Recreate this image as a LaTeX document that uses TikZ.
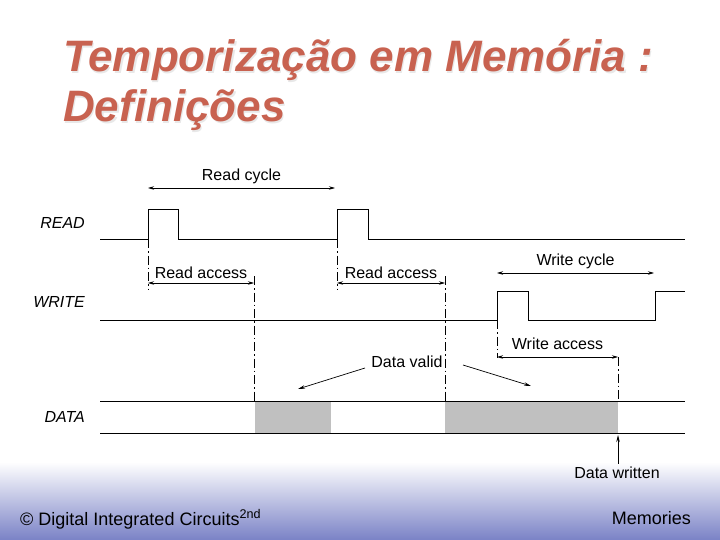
\documentclass[tikz,border=0pt]{standalone}
\usepackage{fontspec}
\setmainfont{Liberation Sans}
\usetikzlibrary{arrows.meta}

\definecolor{titlered}{RGB}{200,98,80}
\definecolor{footblue}{RGB}{122,130,198}
\definecolor{validgray}{RGB}{192,192,192}

\newcommand*{\xstart}{100}
\newcommand*{\xstop}{685}
\newcommand*{\rdlow}{239}
\newcommand*{\rdhigh}{210}
\newcommand*{\wrlow}{320}
\newcommand*{\wrhigh}{291}
\newcommand*{\datatop}{401}
\newcommand*{\databot}{433}

\begin{document}
\begin{tikzpicture}
[
	x=1pt,y=-1pt,
	sig/.style={line width=1pt,line join=miter},
	span/.style={{Stealth[length=6pt,width=3.5pt]}-{Stealth[length=6pt,width=3.5pt]},line width=0.7pt},
	pointer/.style={-{Stealth[length=7pt,width=3.5pt]},line width=0.7pt},
	guide/.style={line width=0.8pt,dash pattern=on 9pt off 3pt on 1.5pt off 3pt},
	lbl/.style={font=\fontsize{16}{18}\selectfont,inner sep=1pt},
	signame/.style={font=\fontsize{16}{18}\selectfont\itshape,anchor=east,inner sep=0pt},
	titletext/.style={font=\fontsize{44}{48}\selectfont\bfseries\itshape,anchor=base west,inner sep=0pt},
	foot/.style={font=\fontsize{18}{20}\selectfont,inner sep=0pt}
]

	\useasboundingbox (0,0) rectangle (720,540);

	% footer band
	\shade[top color=white,bottom color=footblue] (0,462) rectangle (720,540);

	% title
	\node[titletext,gray!18] at (64.2,73.2) (t1s) {Temporização em Memória :};
	\node[titletext,gray!18] at (64.2,123.2) (t2s) {Definições};
	\node[titletext,titlered] at (63,72) (t1) {Temporização em Memória :};
	\node[titletext,titlered] at (63,122) (t2) {Definições};

	% signal names
	\node[signame] at (85,223) (rdname) {READ};
	\node[signame] at (85,302) (wrname) {WRITE};
	\node[signame] at (85,417) (dtname) {DATA};

	% valid data
	\fill[validgray] (255,\datatop) rectangle (331,\databot);
	\fill[validgray] (445,\datatop) rectangle (618,\databot);

	% waveforms
	\draw[sig] (\xstart,\rdlow) -- (148,\rdlow) -- (148,\rdhigh) -- (178,\rdhigh) -- (178,\rdlow)
		-- (337,\rdlow) -- (337,\rdhigh) -- (368,\rdhigh) -- (368,\rdlow) -- (\xstop,\rdlow);
	\draw[sig] (\xstart,\wrlow) -- (497,\wrlow) -- (497,\wrhigh) -- (528,\wrhigh) -- (528,\wrlow)
		-- (655,\wrlow) -- (655,\wrhigh) -- (\xstop,\wrhigh);
	\draw[sig] (\xstart,\datatop) -- (\xstop,\datatop);
	\draw[sig] (\xstart,\databot) -- (\xstop,\databot);

	% guide lines
	\draw[guide] (148,\rdlow) -- (148,289);
	\draw[guide] (337,\rdlow) -- (337,289);
	\draw[guide] (254,276) -- (254,\datatop);
	\draw[guide] (445,276) -- (445,\datatop);
	\draw[guide] (497,\wrlow) -- (497,358);
	\draw[guide] (618,357) -- (618,\datatop);

	% cycle and access spans
	\coordinate (rc1) at (148,188);
	\coordinate (rc2) at (335,188);
	\draw[span] (rc1) -- (rc2) node[lbl,midway,above=3pt] (rclbl) {Read cycle};

	\coordinate (ra1) at (148,283);
	\coordinate (ra2) at (254,283);
	\draw[span] (ra1) -- (ra2) node[lbl,midway,above=3pt] (ralbl) {Read access};

	\coordinate (rb1) at (337,283);
	\coordinate (rb2) at (445,283);
	\draw[span] (rb1) -- (rb2) node[lbl,midway,above=3pt] (rblbl) {Read access};

	\coordinate (wc1) at (497,273);
	\coordinate (wc2) at (654,273);
	\draw[span] (wc1) -- (wc2) node[lbl,midway,above=3pt] (wclbl) {Write cycle};

	\coordinate (wa1) at (497,357);
	\coordinate (wa2) at (618,357);
	\draw[span] (wa1) -- (wa2) node[lbl,midway,above=6pt] (walbl) {Write access};

	% data valid pointers
	\node[lbl] at (407,362) (valid) {Data valid};
	\coordinate (v1a) at (365,368);
	\coordinate (v1b) at (298,389);
	\coordinate (v2a) at (463,365);
	\coordinate (v2b) at (531,386);
	\draw[pointer] (v1a) -- (v1b);
	\draw[pointer] (v2a) -- (v2b);

	% data written
	\node[lbl] at (617,473) (written) {Data written};
	\coordinate (wend) at (618,435);
	\draw[pointer] (written.north -| wend) ++(0,-2) -- (wend);

	% footer
	\node[foot,anchor=base west] at (20,525) (copy)
		{© Digital Integrated Circuits\textsuperscript{2nd}};
	\node[foot,anchor=base east] at (691,524) (topic) {Memories};

\end{tikzpicture}
\end{document}
